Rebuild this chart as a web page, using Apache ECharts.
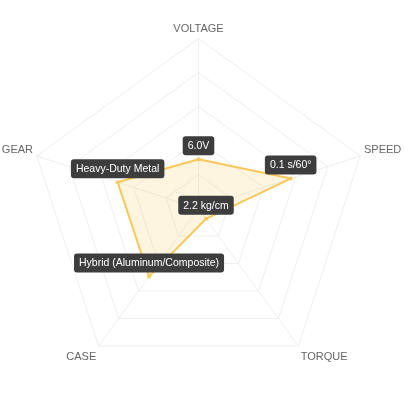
<!DOCTYPE html>
<html>
<head>
<meta charset="utf-8">
<script src="https://cdn.jsdelivr.net/npm/echarts@6/dist/echarts.min.js"></script>
<style>
  html, body { margin: 0; padding: 0; background: #fff; }
  #chart { width: 404px; height: 404px; }
</style>
</head>
<body>
<div id="chart"></div>
<script>
// radar runs counterclockwise, so the axes are listed top, left, bottom-left, bottom-right, right
var axisNames = ['VOLTAGE', 'GEAR', 'CASE', 'TORQUE', 'SPEED'];
var namePlace = ['top', 'side', 'bottom', 'bottom', 'side'];
var scores = [29, 50, 49.5, 7.5, 57];
var specLabels = ['6.0V', 'Heavy-Duty Metal', 'Hybrid (Aluminum/Composite)', '2.2 kg/cm', '0.1 s/60°'];
var maxScore = 100;

function drawRadar() {
    var option = {
        animation: false,
        radar: {
            center: [198.5, 208.5],
            radius: 170,
            startAngle: 90,
            splitNumber: 5,
            shape: 'polygon',
            indicator: axisNames.map(function (n) { return { name: n, max: maxScore }; }),
            axisName: {
                color: '#666',
                fontSize: 11,
                fontFamily: 'Liberation Sans, Arial, sans-serif',
                formatter: function (name) {
                    return '{' + namePlace[axisNames.indexOf(name)] + '|' + name + '}';
                },
                rich: {
                    top: { color: '#666', fontSize: 11, padding: [2, 0, 0, 0] },
                    side: { color: '#666', fontSize: 11, padding: [0, 0, 10, 0] },
                    bottom: { color: '#666', fontSize: 11, padding: [15, 0, 0, 0] }
                }
            },
            nameGap: 4,
            splitLine: { lineStyle: { color: '#eee', width: 1 } },
            splitArea: { show: false },
            axisLine: { lineStyle: { color: '#eee', width: 1 } }
        },
        series: [{
            type: 'radar',
            symbol: 'circle',
            symbolSize: 4,
            itemStyle: { color: '#fac858' },
            lineStyle: { color: '#fac858', width: 2 },
            areaStyle: { color: '#fac858', opacity: 0.18 },
            label: {
                show: true,
                position: 'top',
                distance: 2,
                color: '#fff',
                fontSize: 10.5,
                lineHeight: 12,
                fontFamily: 'Liberation Sans, Arial, sans-serif',
                backgroundColor: '#3d3d3d',
                borderRadius: 3,
                padding: [4, 5, 3, 5],
                formatter: function (p) { return specLabels[p.dimensionIndex]; }
            },
            data: [{ value: scores, name: 'Servo' }]
        }]
    };

    var myChart = echarts.init(document.getElementById('chart'));
    myChart.setOption(option, true);
}

drawRadar();
</script>
</body>
</html>
